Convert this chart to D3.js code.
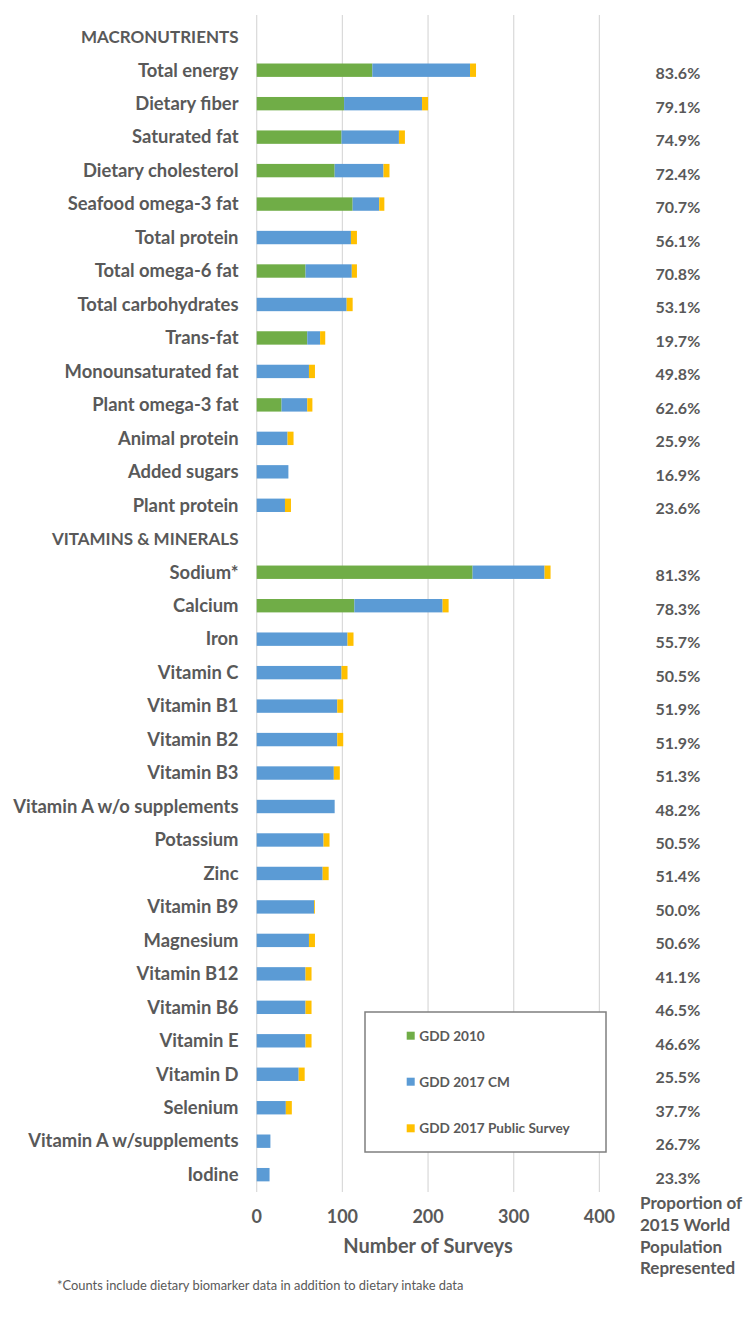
<!DOCTYPE html>
<html>
<head>
<meta charset="utf-8">
<script src="https://cdn.jsdelivr.net/npm/d3@7"></script>
<style>
  html, body { margin: 0; padding: 0; background: #fff; }
  svg { display: block; font-family: Lato, "Open Sans", sans-serif; }
</style>
</head>
<body>
<svg id="chart" width="750" height="1333"></svg>
<script>
// ---- data ----
const categories = [
  "MACRONUTRIENTS",
  "Total energy", "Dietary fiber", "Saturated fat", "Dietary cholesterol",
  "Seafood omega-3 fat", "Total protein", "Total omega-6 fat", "Total carbohydrates",
  "Trans-fat", "Monounsaturated fat", "Plant omega-3 fat", "Animal protein",
  "Added sugars", "Plant protein",
  "VITAMINS & MINERALS",
  "Sodium*", "Calcium", "Iron", "Vitamin C", "Vitamin B1", "Vitamin B2", "Vitamin B3",
  "Vitamin A w/o supplements", "Potassium", "Zinc", "Vitamin B9", "Magnesium",
  "Vitamin B12", "Vitamin B6", "Vitamin E", "Vitamin D", "Selenium",
  "Vitamin A w/supplements", "Iodine"
];
const headings = ["MACRONUTRIENTS", "VITAMINS & MINERALS"];
const seriesNames = ["GDD 2010", "GDD 2017 CM", "GDD 2017 Public Survey"];
const gdd2010 = [
  null,
  135, 102, 99, 91, 112, 0, 57, 0, 59, 0, 29, 0, 0, 0,
  null,
  252, 114, 0, 0, 0, 0, 0, 0, 0, 0, 0, 0, 0, 0, 0, 0, 0, 0, 0
];
const gdd2017CM = [
  null,
  114, 91, 67, 57, 31, 110, 54, 105, 15, 61, 30, 36, 37, 33,
  null,
  84, 103, 106, 99, 94, 94, 90, 91, 78, 77, 67, 61, 57, 57, 57, 49, 34, 16, 15
];
const gdd2017Public = [
  null,
  7, 7, 7, 7, 6, 7, 6, 7, 6, 7, 6, 7, 0, 7,
  null,
  7, 7, 7, 7, 7, 7, 7, 0, 7, 7, 1, 7, 7, 7, 7, 7, 7, 0, 0
];
const proportions = [
  null,
  "83.6%", "79.1%", "74.9%", "72.4%", "70.7%", "56.1%", "70.8%", "53.1%",
  "19.7%", "49.8%", "62.6%", "25.9%", "16.9%", "23.6%",
  null,
  "81.3%", "78.3%", "55.7%", "50.5%", "51.9%", "51.9%", "51.3%", "48.2%",
  "50.5%", "51.4%", "50.0%", "50.6%", "41.1%", "46.5%", "46.6%", "25.5%",
  "37.7%", "26.7%", "23.3%"
];
const xTicks = [0, 100, 200, 300, 400];
const xTitle = "Number of Surveys";
const propTitle = ["Proportion of", "2015 World", "Population", "Represented"];
const footnote = "*Counts include dietary biomarker data in addition to dietary intake data";
const colors = ["#70AD47", "#5B9BD5", "#FFC000"];

// ---- layout ----
const textColor = "#595959";
const svg = d3.select("#chart");
const x = d3.scaleLinear().domain([0, 400]).range([256.7, 599.4]);
const y = d3.scaleBand().domain(categories).range([20, 1191.4])
  .paddingInner(0.6).paddingOuter(0.3);
const plotTop = 15, plotBottom = 1192;

// gridlines
svg.append("g").selectAll("line").data(xTicks).join("line")
  .attr("x1", d => x(d)).attr("x2", d => x(d))
  .attr("y1", plotTop).attr("y2", plotBottom)
  .attr("stroke", "#d9d9d9").attr("stroke-width", 1.2);

// stacked bars
const rows = categories.map((c, i) => ({
  cat: c, g: gdd2010[i] || 0, b: gdd2017CM[i] || 0, p: gdd2017Public[i] || 0
})).filter(r => !headings.includes(r.cat));
const stack = d3.stack().keys(["g", "b", "p"]);
const stacked = stack(rows);
svg.append("g").selectAll("g").data(stacked).join("g")
  .attr("fill", (d, i) => colors[i])
  .selectAll("rect").data(d => d.filter(s => s[1] > s[0])).join("rect")
  .attr("x", d => x(d[0]))
  .attr("width", d => x(d[1]) - x(d[0]))
  .attr("y", d => y(d.data.cat))
  .attr("height", y.bandwidth());

// category labels
svg.append("g").selectAll("text").data(categories).join("text")
  .attr("x", 238.5)
  .attr("y", d => y(d) + y.bandwidth() / 2 + (headings.includes(d) ? 5.8 : 6.3))
  .attr("text-anchor", "end")
  .attr("fill", textColor)
  .attr("font-weight", "bold")
  .attr("font-size", d => headings.includes(d) ? 17 : 18.4)
  .text(d => d);

// proportions
svg.append("g").selectAll("text")
  .data(categories.map((c, i) => ({ c, v: proportions[i] })).filter(d => d.v))
  .join("text")
  .attr("x", 655.5)
  .attr("y", d => y(d.c) + y.bandwidth() / 2 + 9)
  .attr("fill", textColor)
  .attr("font-weight", "bold")
  .attr("font-size", 16)
  .text(d => d.v);

// x axis tick labels
svg.append("g").selectAll("text").data(xTicks).join("text")
  .attr("x", d => x(d)).attr("y", 1222.7)
  .attr("text-anchor", "middle")
  .attr("fill", textColor).attr("font-weight", "bold").attr("font-size", 18)
  .text(d => d);

svg.append("text")
  .attr("x", 428).attr("y", 1252.7)
  .attr("text-anchor", "middle")
  .attr("fill", textColor).attr("font-weight", "bold").attr("font-size", 20)
  .text(xTitle);

svg.append("g").selectAll("text").data(propTitle).join("text")
  .attr("x", 640).attr("y", (d, i) => 1209.3 + i * 21.6)
  .attr("fill", textColor).attr("font-weight", "bold").attr("font-size", 17)
  .text(d => d);

svg.append("text")
  .attr("x", 57).attr("y", 1289.8)
  .attr("fill", textColor).attr("font-size", 12.9)
  .text(footnote);

// legend
const lg = svg.append("g");
lg.append("rect")
  .attr("x", 365).attr("y", 1012).attr("width", 241).attr("height", 140)
  .attr("fill", "#fff").attr("stroke", "#7f7f7f").attr("stroke-width", 1.5);
const legY = [1035.7, 1081.7, 1128.3];
const li = lg.selectAll("g.item").data(seriesNames).join("g").attr("class", "item");
li.append("rect")
  .attr("x", 406.7).attr("y", (d, i) => legY[i] - 4)
  .attr("width", 8).attr("height", 8)
  .attr("fill", (d, i) => colors[i]);
li.append("text")
  .attr("x", 419.3).attr("y", (d, i) => legY[i] + 4.8)
  .attr("fill", textColor).attr("font-weight", "bold").attr("font-size", 13.6)
  .text(d => d);
</script>
</body>
</html>
